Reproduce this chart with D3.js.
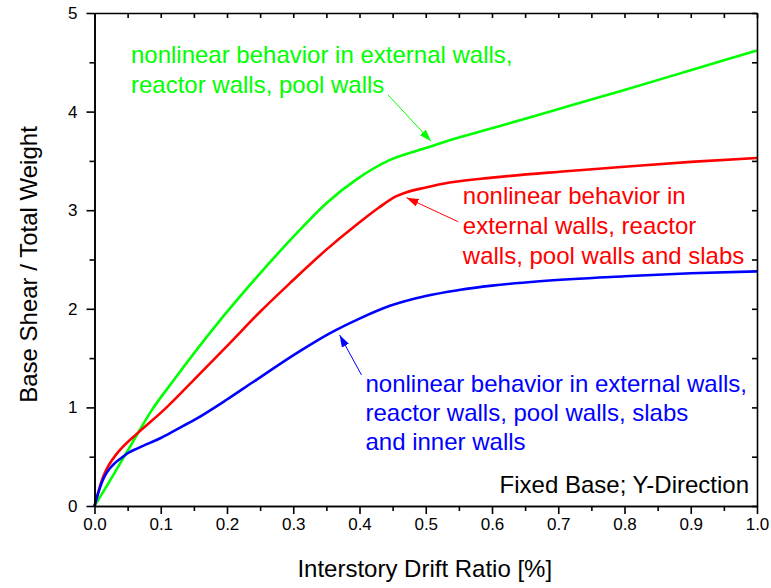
<!DOCTYPE html>
<html>
<head>
<meta charset="utf-8">
<script src="https://cdn.jsdelivr.net/npm/d3@7/dist/d3.min.js"></script>
<style>
  html, body { margin: 0; padding: 0; background: #fff; }
  svg { display: block; font-family: "Liberation Sans", Arial, sans-serif; }
</style>
</head>
<body>
<svg id="chart" width="771" height="588"></svg>
<script>
// Pushover curves: base shear / total weight vs interstory drift ratio [%]
const driftGreen = [0, 0.02, 0.05, 0.0863, 0.12, 0.194, 0.25, 0.31, 0.35, 0.395, 0.446, 0.5, 0.536, 0.6, 0.702, 0.8, 0.9, 1.0];
const shearGreen = [0, 0.22, 0.56, 0.97, 1.28, 1.92, 2.36, 2.80, 3.07, 3.31, 3.51, 3.63, 3.71, 3.83, 4.03, 4.22, 4.42, 4.62];

const driftRed = [0, 0.005, 0.01, 0.018, 0.028, 0.04, 0.0646, 0.104, 0.15, 0.204, 0.25, 0.295, 0.35, 0.395, 0.43, 0.455, 0.47, 0.5, 0.536, 0.6, 0.702, 0.8, 0.9, 1.0];
const shearRed = [0, 0.12, 0.24, 0.37, 0.48, 0.58, 0.737, 0.97, 1.28, 1.65, 1.97, 2.26, 2.60, 2.85, 3.03, 3.14, 3.18, 3.23, 3.28, 3.33, 3.39, 3.44, 3.49, 3.53];

const driftBlue = [0, 0.005, 0.01, 0.016, 0.023, 0.03, 0.04, 0.05, 0.065, 0.08, 0.1, 0.125, 0.15, 0.2, 0.24, 0.31, 0.355, 0.4, 0.446, 0.5, 0.55, 0.6, 0.672, 0.8, 0.9, 1.0];
const shearBlue = [0, 0.12, 0.22, 0.31, 0.38, 0.43, 0.485, 0.535, 0.585, 0.63, 0.69, 0.78, 0.87, 1.08, 1.26, 1.57, 1.75, 1.90, 2.03, 2.13, 2.19, 2.235, 2.28, 2.33, 2.36, 2.38];

const xTicks = [0, 0.1, 0.2, 0.3, 0.4, 0.5, 0.6, 0.7, 0.8, 0.9, 1.0];
const yTicks = [0, 1, 2, 3, 4, 5];

const greenLabel = ["nonlinear behavior in external walls,", "reactor walls, pool walls"];
const redLabel = ["nonlinear behavior in", "external walls, reactor", "walls, pool walls and slabs"];
const blueLabel = ["nonlinear behavior in external walls,", "reactor walls, pool walls, slabs", "and inner walls"];
const caseLabel = "Fixed Base; Y-Direction";

const svg = d3.select("#chart");
const margin = { left: 94.5, top: 13, right: 14, bottom: 82 };
const W = 771 - margin.left - margin.right;
const H = 588 - margin.top - margin.bottom;

const x = d3.scaleLinear().domain([0, 1]).range([0, W]);
const y = d3.scaleLinear().domain([0, 5]).range([H, 0]);

const g = svg.append("g").attr("transform", `translate(${margin.left},${margin.top})`);

// Arrowhead markers
const defs = svg.append("defs");
[["g", "#00ff00"], ["r", "#ff0000"], ["b", "#0000ff"]].forEach(([id, c]) => {
  defs.append("marker")
    .attr("id", "arrow-" + id)
    .attr("viewBox", "0 0 12 8")
    .attr("refX", 12).attr("refY", 4)
    .attr("markerWidth", 12).attr("markerHeight", 8)
    .attr("markerUnits", "userSpaceOnUse")
    .attr("orient", "auto")
    .append("path").attr("d", "M0,0 L12,4 L0,8 Z").attr("fill", c);
});

// Curves
const line = d3.line().x(d => x(d[0])).y(d => y(d[1])).curve(d3.curveMonotoneX);
const series = [
  [driftGreen, shearGreen, "#00ff00"],
  [driftRed, shearRed, "#ff0000"],
  [driftBlue, shearBlue, "#0000ff"]
];
series.forEach(([xs, ys, c]) => {
  g.append("path")
    .datum(xs.map((v, i) => [v, ys[i]]))
    .attr("d", line)
    .attr("fill", "none")
    .attr("stroke", c)
    .attr("stroke-width", 2.6)
    .attr("stroke-linejoin", "round");
});

// Axes: bottom and left with outward ticks, top and right mirrored inward
const axisColor = "#000";
function drawAxis(axisGen, transform) {
  const a = g.append("g").attr("transform", transform).call(axisGen);
  a.select(".domain").attr("stroke", axisColor).attr("stroke-width", 1.6);
  a.selectAll(".tick line").attr("stroke", axisColor).attr("stroke-width", 1.6);
  return a;
}
const xMinor = d3.range(0.05, 1.0, 0.1);
const yMinor = d3.range(0.5, 5, 1);

const bottom = drawAxis(d3.axisBottom(x).tickValues(xTicks).tickFormat(d3.format(".1f")).tickSizeInner(8).tickSizeOuter(0).tickPadding(4), `translate(0,${H})`);
bottom.selectAll("text").attr("font-size", 17).attr("fill", "#000").attr("font-family", "Liberation Sans, Arial, sans-serif");
drawAxis(d3.axisBottom(x).tickValues(xMinor).tickFormat("").tickSizeInner(5).tickSizeOuter(0), `translate(0,${H})`);

const left = drawAxis(d3.axisLeft(y).tickValues(yTicks).tickFormat(d3.format("d")).tickSizeInner(8).tickSizeOuter(0).tickPadding(9), "translate(0,0)");
left.selectAll("text").attr("font-size", 17).attr("fill", "#000").attr("font-family", "Liberation Sans, Arial, sans-serif");
drawAxis(d3.axisLeft(y).tickValues(yMinor).tickFormat("").tickSizeInner(5).tickSizeOuter(0), "translate(0,0)");

drawAxis(d3.axisTop(x).tickValues(xTicks.concat(xMinor)).tickFormat("").tickSizeInner(-5).tickSizeOuter(0), "translate(0,0)");
drawAxis(d3.axisRight(y).tickValues(yTicks.concat(yMinor)).tickFormat("").tickSizeInner(-5).tickSizeOuter(0), `translate(${W},0)`);

// Axis titles
svg.append("text")
  .attr("x", margin.left + W / 2 - 1).attr("y", 577)
  .attr("text-anchor", "middle").attr("font-size", 24).attr("fill", "#000")
  .text("Interstory Drift Ratio [%]");
svg.append("text")
  .attr("transform", `translate(37,${margin.top + H / 2 + 5}) rotate(-90)`)
  .attr("text-anchor", "middle").attr("font-size", 24).attr("fill", "#000")
  .text("Base Shear / Total Weight");

// Annotations
function label(lines, x0, yBase, lineStep, color) {
  const t = g.append("text").attr("fill", color).attr("font-size", 24);
  lines.forEach((s, i) => {
    t.append("tspan").attr("x", x(x0)).attr("y", y(yBase) + i * lineStep).text(s);
  });
}
label(greenLabel, 0.055, 4.49, 30, "#00ff00");
label(redLabel, 0.556, 3.06, 30, "#ff0000");
label(blueLabel, 0.409, 1.16, 29, "#0000ff");

function arrow(x1, y1, x2, y2, color, id) {
  g.append("line")
    .attr("x1", x(x1)).attr("y1", y(y1))
    .attr("x2", x(x2)).attr("y2", y(y2))
    .attr("stroke", color).attr("stroke-width", 1)
    .attr("marker-end", `url(#arrow-${id})`);
}
arrow(0.443, 4.17, 0.508, 3.70, "#00ff00", "g");
arrow(0.549, 2.883, 0.471, 3.127, "#ff0000", "r");
arrow(0.403, 1.329, 0.370, 1.734, "#0000ff", "b");

g.append("text")
  .attr("x", x(0.988)).attr("y", y(0.13))
  .attr("text-anchor", "end").attr("font-size", 24).attr("fill", "#000")
  .text(caseLabel);
</script>
</body>
</html>
